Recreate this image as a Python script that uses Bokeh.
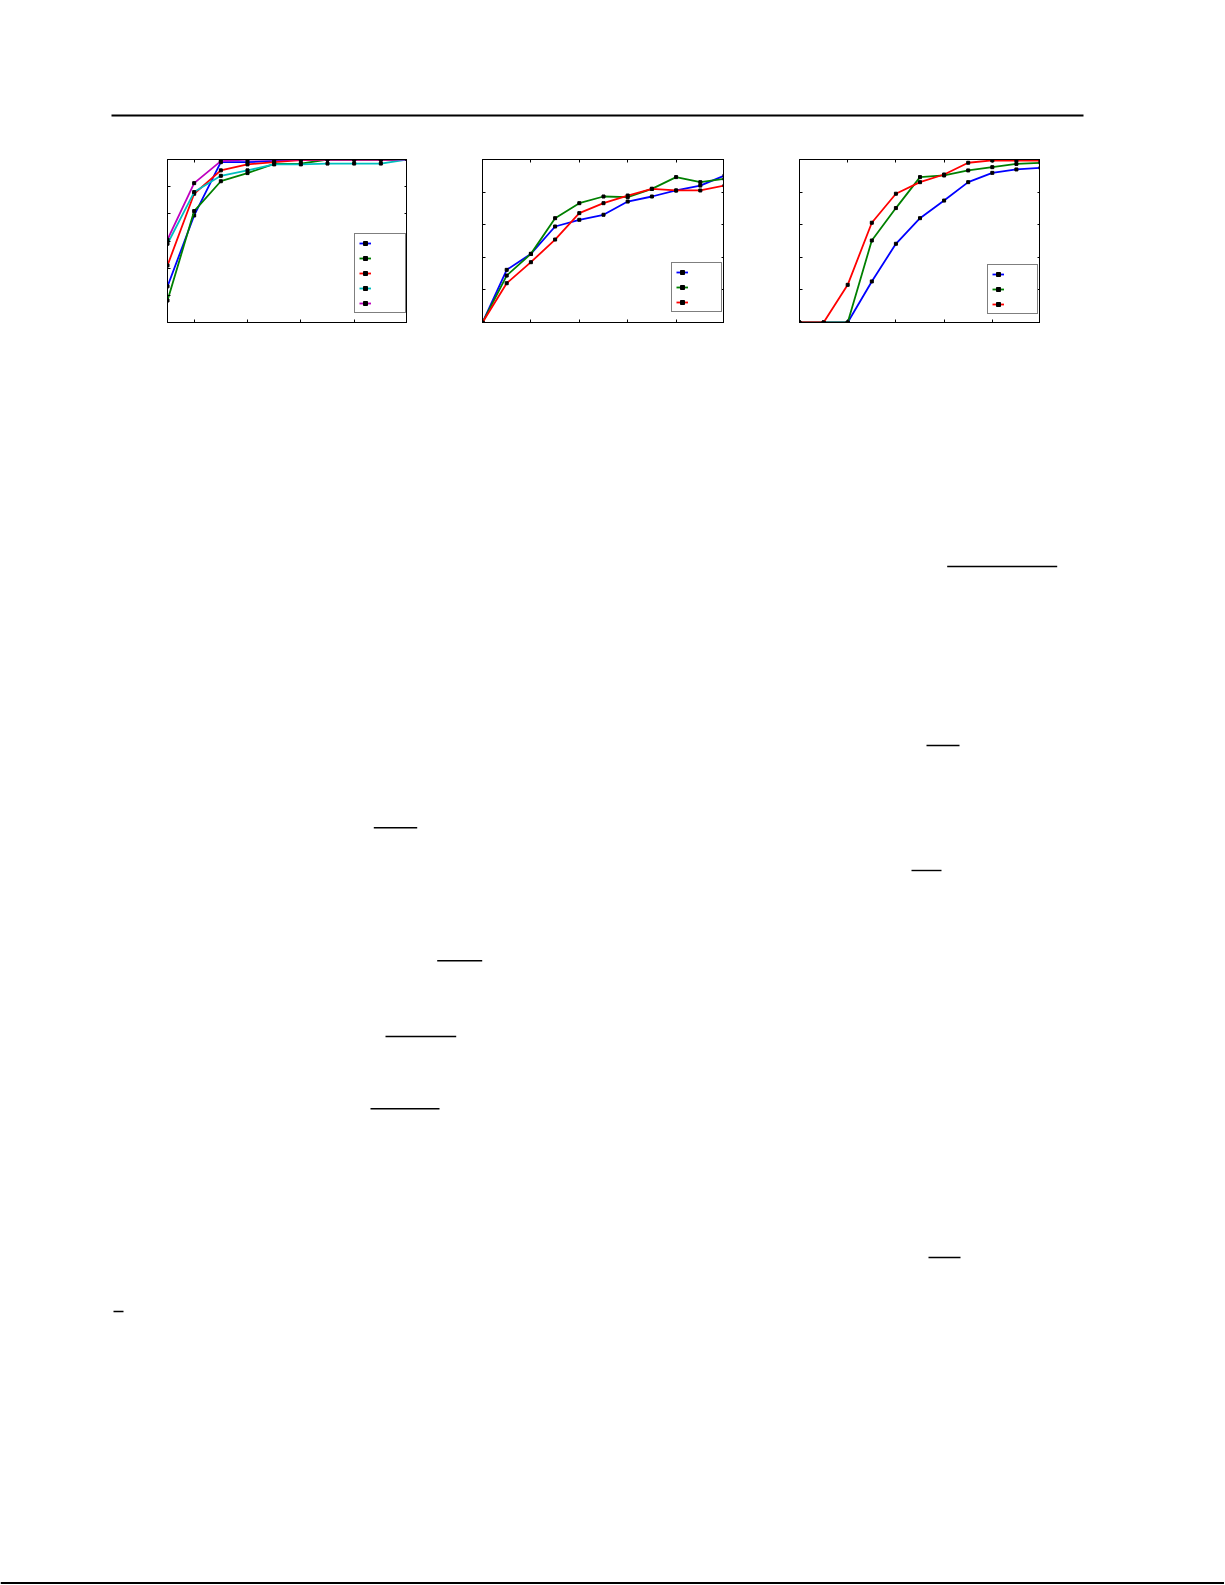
from bokeh.plotting import figure
from bokeh.layouts import column, row
from bokeh.models import (Range1d, LinearAxis, FixedTicker, Legend, LegendItem, Spacer,
                          CustomLabelingPolicy)
from bokeh.core.properties import value
from bokeh.embed import file_html
from bokeh.resources import INLINE

# ---------------- data ----------------
# chart 1
c1_x = [1, 2, 3, 4, 5, 6, 7, 8, 9, 10]
c1_blue = [0.533, 0.794, 0.990, 0.990, 0.995, 1.0, 1.0, 1.0, 1.0, 1.0]
c1_green = [0.481, 0.810, 0.920, 0.950, 0.984, 0.985, 1.0, 1.0, 1.0, 1.0]
c1_red = [0.610, 0.874, 0.960, 0.982, 0.990, 0.998, 1.0, 1.0, 1.0, 1.0]
c1_cyan = [0.690, 0.880, 0.940, 0.960, 0.982, 0.982, 0.985, 0.985, 0.985, 1.0]
c1_magenta = [0.705, 0.913, 0.994, 1.0, 1.0, 1.0, 1.0, 1.0, 1.0, 1.0]
c1_xticks = [2, 4, 6, 8, 10]
c1_yticks = [0.4, 0.5, 0.6, 0.7, 0.8, 0.9, 1.0]

# chart 2
c2_x = [0, 1, 2, 3, 4, 5, 6, 7, 8, 9, 10]
c2_blue = [0.0, 0.323, 0.421, 0.589, 0.630, 0.661, 0.742, 0.773, 0.810, 0.840, 0.902]
c2_green = [0.0, 0.288, 0.421, 0.640, 0.732, 0.773, 0.769, 0.820, 0.892, 0.861, 0.881]
c2_red = [0.0, 0.241, 0.370, 0.509, 0.671, 0.732, 0.779, 0.820, 0.810, 0.810, 0.840]

# chart 3
c3_x = [0, 1, 2, 3, 4, 5, 6, 7, 8, 9, 10]
c3_blue = [0.0, 0.0, 0.0, 0.252, 0.483, 0.640, 0.748, 0.861, 0.918, 0.939, 0.949]
c3_green = [0.0, 0.0, 0.0, 0.503, 0.702, 0.892, 0.902, 0.933, 0.953, 0.973, 0.980]
c3_red = [0.0, 0.0, 0.231, 0.612, 0.790, 0.861, 0.908, 0.980, 0.994, 0.994, 0.994]

c23_xticks = [0, 2, 4, 6, 8, 10]
c23_yticks = [0.0, 0.2, 0.4, 0.6, 0.8, 1.0]

BLUE, GREEN, RED, CYAN, MAGENTA = "#0000ff", "#008000", "#ff0000", "#00bfbf", "#bf00bf"

# page decoration (page pixel positions): x0, x1, y, width
page_rules_top = [(111, 1083, 115, 2.2)]
page_rules_body = [
    (946.7, 1056.7, 566, 1.4),
    (926, 959, 745, 1.4),
    (373.3, 416.7, 827.3, 1.4),
    (911, 941, 870, 1.4),
    (436.7, 481.7, 960.3, 1.4),
    (385, 455.7, 1036, 1.4),
    (370, 439, 1108.3, 1.4),
    (928, 960, 1257, 1.4),
    (113, 123, 1311, 1.4),
    (0, 1224, 1582.5, 2.0),
]

PAGE_W = 1224


def page_fig(y_top, y_bot, rules):
    p = figure(width=PAGE_W, height=int(y_bot - y_top),
               x_range=Range1d(0, PAGE_W), y_range=Range1d(y_bot, y_top),
               x_axis_location=None, y_axis_location=None,
               output_backend="svg", toolbar_location=None,
               min_border=0, outline_line_color=None)
    p.grid.visible = False
    p.segment(x0=[r[0] for r in rules], x1=[r[1] for r in rules],
              y0=[r[2] for r in rules], y1=[r[2] for r in rules],
              line_width=[r[3] for r in rules], line_color="black")
    return p


NO_LABELS = """
const all = [...indices]
for (const i of all) { indices.unset(i) }
return indices
"""


def chart(xr, yr, xticks, yticks, fw):
    p = figure(frame_width=fw, frame_height=163,
               x_range=Range1d(*xr), y_range=Range1d(*yr),
               x_axis_location=None, y_axis_location=None,
               output_backend="svg", toolbar_location=None,
               min_border_left=0, min_border_right=0,
               min_border_top=9, min_border_bottom=18)
    p.grid.visible = False
    p.outline_line_color = "black"
    p.outline_line_width = 1
    for side, t in [("below", xticks), ("above", xticks), ("left", yticks), ("right", yticks)]:
        ax = LinearAxis(ticker=FixedTicker(ticks=t))
        ax.axis_line_color = "black"
        ax.major_tick_in = 3
        ax.major_tick_out = 0
        ax.minor_tick_line_color = None
        ax.major_label_policy = CustomLabelingPolicy(code=NO_LABELS)
        ax.major_label_text_font_size = "0px"
        ax.major_label_standoff = 0
        p.add_layout(ax, side)
    return p


def add_series(p, x, ys, colors):
    items = []
    for y, c in zip(ys, colors):
        l = p.line(x, y, line_color=c, line_width=1.8)
        s = p.scatter(x, y, marker="square", size=3, color="black")
        items.append(LegendItem(label=value(""), renderers=[l, s]))
    return items


def add_legend(p, items, loc, lw):
    lg = Legend(items=items, location=loc, orientation="vertical",
                glyph_width=12, glyph_height=10, label_width=lw, label_height=10,
                label_standoff=5, padding=4, spacing=5, margin=0,
                border_line_color="black", border_line_width=1,
                background_fill_color="white", background_fill_alpha=1,
                label_text_font_size="8px")
    p.add_layout(lg)


f1 = chart((1, 10), (0.4, 1.0), c1_xticks, c1_yticks, 240)
it1 = add_series(f1, c1_x, [c1_blue, c1_green, c1_red, c1_cyan, c1_magenta],
                 [BLUE, GREEN, RED, CYAN, MAGENTA])
add_legend(f1, it1, (186.6, 9), 25)

f2 = chart((0, 10), (0, 1), c23_xticks, c23_yticks, 242)
it2 = add_series(f2, c2_x, [c2_blue, c2_green, c2_red], [BLUE, GREEN, RED])
add_legend(f2, it2, (189, 9.7), 24)

f3 = chart((0, 10), (0, 1), c23_xticks, c23_yticks, 241)
it3 = add_series(f3, c3_x, [c3_blue, c3_green, c3_red], [BLUE, GREEN, RED])
add_legend(f3, it3, (188.4, 8), 24)

header = page_fig(0, 150, page_rules_top)
body = page_fig(340, 1584, page_rules_body)

charts = row(Spacer(width=167, height=190), f1, Spacer(width=75, height=190), f2,
             Spacer(width=75, height=190), f3)

page = column(header, charts, body)

open("out.html", "w").write(file_html(page, INLINE))
